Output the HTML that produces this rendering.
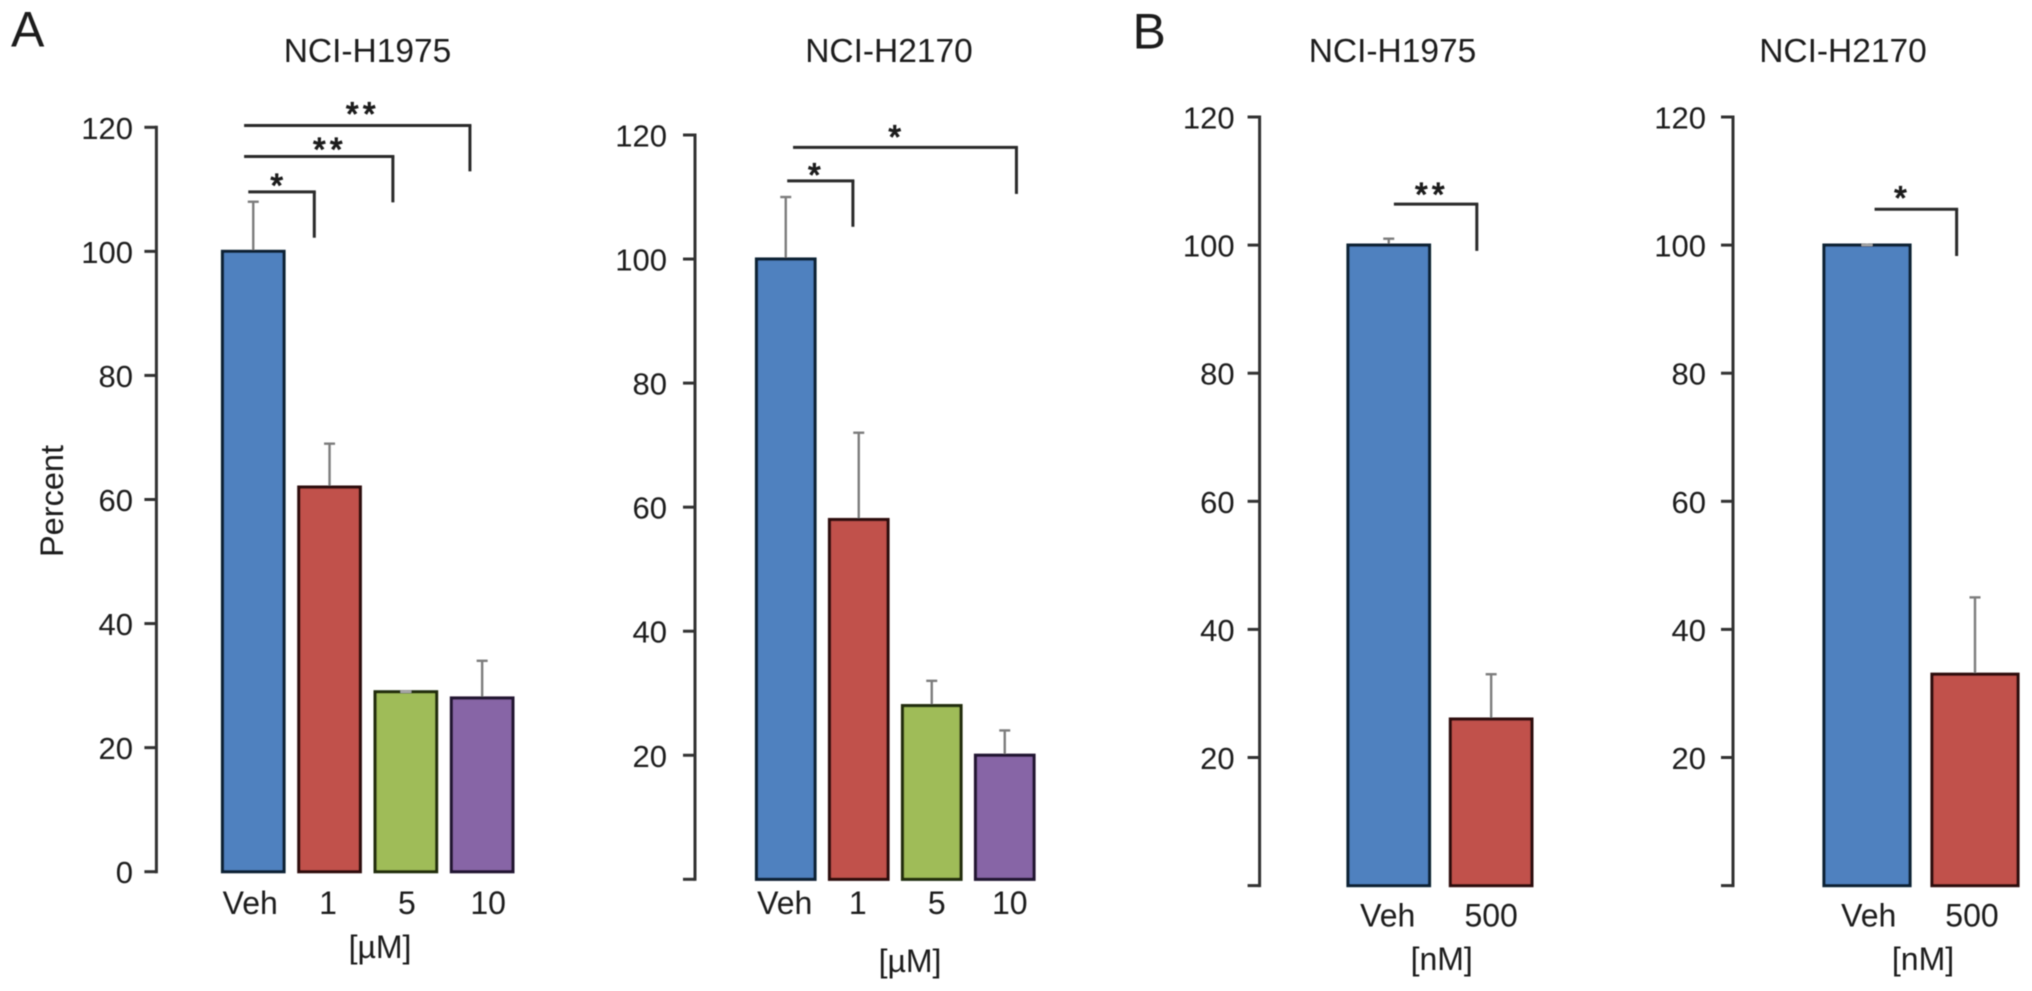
<!DOCTYPE html>
<html lang="en">
<head>
<meta charset="utf-8">
<title>NCI-H1975 and NCI-H2170 bar charts</title>
<style>
html,body{margin:0;padding:0;background:#fff;width:2032px;height:991px;overflow:hidden}
svg{display:block}
text{font-family:"Liberation Sans",Arial,sans-serif;fill:#1c1c1c}
</style>
</head>
<body>
<svg id="figure" xmlns="http://www.w3.org/2000/svg" width="2032" height="991" viewBox="0 0 2032 991">
  <defs><filter id="soft" x="-2%" y="-2%" width="104%" height="104%"><feGaussianBlur stdDeviation="0.55"/></filter></defs>
  <rect x="0" y="0" width="2032" height="991" fill="#ffffff"/>
  <g id="root" filter="url(#soft)">
    <text x="11" y="46.5" font-size="50">A</text>
    <text x="1132.5" y="48.5" font-size="50">B</text>
    <text x="367.5" y="62" font-size="33.5" text-anchor="middle">NCI-H1975</text>
    <text x="889" y="62" font-size="33.5" text-anchor="middle">NCI-H2170</text>
    <text x="1392.5" y="62" font-size="33.5" text-anchor="middle">NCI-H1975</text>
    <text x="1843" y="62" font-size="33.5" text-anchor="middle">NCI-H2170</text>
    <text transform="translate(63 501) rotate(-90)" font-size="32.5" text-anchor="middle">Percent</text>
    <text x="380" y="958" font-size="32" text-anchor="middle">[µM]</text>
    <text x="910" y="972" font-size="32" text-anchor="middle">[µM]</text>
    <text x="1441.7" y="970" font-size="32" text-anchor="middle">[nM]</text>
    <text x="1923" y="970" font-size="32" text-anchor="middle">[nM]</text>
  </g>
</svg>
<script>
// ---------- Data ----------
const a1Categories = ['Veh', '1', '5', '10'];
const a1Values = [100, 62, 29, 28];
const a1Errors = [8, 7, 0, 6];
const a1TickValues = [0, 20, 40, 60, 80, 100, 120];
const a1TickLabels = ['0', '20', '40', '60', '80', '100', '120'];
const a1Brackets = [
  { from: -0.12, to: 2.84, level: 120.3, end: 112.9, label: '**', labelAt: 1.412, labelLevel: 123.2 },
  { from: -0.12, to: 1.83, level: 115.3, end: 107.9, label: '**', labelAt: 0.98, labelLevel: 117.5 },
  { from: -0.065, to: 0.8, level: 109.6, end: 102.2, label: '*', labelAt: 0.311, labelLevel: 111.7 }
];

const a2Categories = ['Veh', '1', '5', '10'];
const a2Values = [100, 58, 28, 20];
const a2Errors = [10, 14, 4, 4];
const a2TickValues = [0, 20, 40, 60, 80, 100, 120];
const a2TickLabels = ['', '20', '40', '60', '80', '100', '120'];
const a2Brackets = [
  { from: 0.1, to: 3.16, level: 118, end: 110.5, label: '*', labelAt: 1.497, labelLevel: 120.7 },
  { from: 0.02, to: 0.92, level: 112.6, end: 105.2, label: '*', labelAt: 0.395, labelLevel: 114.6 }
];

const b1Categories = ['Veh', '500'];
const b1Values = [100, 26];
const b1Errors = [1, 7];
const b1TickValues = [0, 20, 40, 60, 80, 100, 120];
const b1TickLabels = ['', '20', '40', '60', '80', '100', '120'];
const b1Brackets = [
  { from: 0.05, to: 0.86, level: 106.4, end: 99.1, label: '**', labelAt: 0.403, labelLevel: 108.9 }
];

const b2Categories = ['Veh', '500'];
const b2Values = [100, 33];
const b2Errors = [0, 12];
const b2TickValues = [0, 20, 40, 60, 80, 100, 120];
const b2TickLabels = ['', '20', '40', '60', '80', '100', '120'];
const b2Brackets = [
  { from: 0.07, to: 0.83, level: 105.6, end: 98.3, label: '*', labelAt: 0.312, labelLevel: 108.4 }
];

const barColors = ['#5081bf', '#c1514c', '#9fbc59', '#8765a6'];
const barEdges = ['#0f2036', '#2e100f', '#232f10', '#221530'];

// ---------- Drawing ----------
const SVGNS = 'http://www.w3.org/2000/svg';
const root = document.getElementById('root');

function makeLine(parent, x1, y1, x2, y2, color, width) {
  const el = document.createElementNS(SVGNS, 'line');
  el.setAttribute('x1', x1);
  el.setAttribute('y1', y1);
  el.setAttribute('x2', x2);
  el.setAttribute('y2', y2);
  el.setAttribute('stroke', color);
  el.setAttribute('stroke-width', width);
  parent.appendChild(el);
  return el;
}

function makeText(parent, x, y, size, anchor, content) {
  const el = document.createElementNS(SVGNS, 'text');
  el.setAttribute('x', x);
  el.setAttribute('y', y);
  el.setAttribute('font-size', size);
  el.setAttribute('text-anchor', anchor);
  el.textContent = content;
  parent.appendChild(el);
  return el;
}

function drawChart(id, categories, values, errors, tickValues, tickLabels, brackets, layout) {
  const g = document.createElementNS(SVGNS, 'g');
  
  
  root.appendChild(g);

  const yScale = v => layout.y0 - (v / 120) * (layout.y0 - layout.y120);
  const xCenter = i => layout.barLeft + layout.barWidth / 2 + i * layout.barStep;

  // axis
  const axis = makeLine(g, layout.axisX, yScale(0) + 1.5, layout.axisX, yScale(120) - 1.5, '#333333', 3);
  
  

  tickValues.forEach((t, i) => {
    const tick = makeLine(g, layout.axisX - 12, yScale(t), layout.axisX, yScale(t), '#333333', 3);
    
    
    if (tickLabels[i]) {
      const lab = makeText(g, layout.tickRight, yScale(t) + 11.5, 31, 'end', tickLabels[i]);
      
      
    }
  });

  // bars
  values.forEach((v, i) => {
    const bar = document.createElementNS(SVGNS, 'rect');
    bar.setAttribute('x', xCenter(i) - layout.barWidth / 2);
    bar.setAttribute('y', yScale(v));
    bar.setAttribute('width', layout.barWidth);
    bar.setAttribute('height', yScale(0) - yScale(v));
    bar.setAttribute('fill', barColors[i]);
    bar.setAttribute('stroke', barEdges[i]);
    bar.setAttribute('stroke-width', 3.2);
    
    
    g.appendChild(bar);
  });

  // error bars, drawn over the top edge of each bar
  values.forEach((v, i) => {
    const cx = xCenter(i);
    const top = yScale(v + errors[i]);
    const stem = makeLine(g, cx, yScale(v) - 1.5, cx, top, '#7d7d7d', 2.4);
    
    
    const cap = makeLine(g, cx - 5.5, top, cx + 5.5, top, errors[i] === 0 ? '#a8a8a8' : '#7d7d7d', 2.4);
    
    
  });

  // category labels
  categories.forEach((c, i) => {
    const lab = makeText(g, xCenter(i) + layout.labelNudge[i], layout.labelY, 32, 'middle', c);
    
    
  });

  // significance brackets
  brackets.forEach(b => {
    const x1 = xCenter(b.from);
    const x2 = xCenter(b.to);
    const y = yScale(b.level);
    const h = makeLine(g, x1, y, x2 + 1.5, y, '#2a2a2a', 3);
    
    
    const d = makeLine(g, x2, y, x2, yScale(b.end), '#2a2a2a', 3);
    
    
    const s = makeText(g, xCenter(b.labelAt) + 2, yScale(b.labelLevel) + 17.5, 32, 'middle', b.label);
    s.setAttribute('letter-spacing', '4.5');
    s.setAttribute('stroke', '#1c1c1c');
    s.setAttribute('stroke-width', '1.2');
    
    
  });
}

drawChart('a-h1975', a1Categories, a1Values, a1Errors, a1TickValues, a1TickLabels, a1Brackets,
  { axisX: 156.4, y0: 871.7, y120: 127.3, barLeft: 222.5, barWidth: 61.5, barStep: 76.3, tickRight: 133,
    labelY: 914, labelNudge: [-3, -1.5, 1, 6] });
drawChart('a-h2170', a2Categories, a2Values, a2Errors, a2TickValues, a2TickLabels, a2Brackets,
  { axisX: 695, y0: 879.3, y120: 135, barLeft: 756.5, barWidth: 58.5, barStep: 73, tickRight: 667,
    labelY: 914, labelNudge: [-1, -1, 5, 5] });
drawChart('b-h1975', b1Categories, b1Values, b1Errors, b1TickValues, b1TickLabels, b1Brackets,
  { axisX: 1259.6, y0: 885.6, y120: 117, barLeft: 1348, barWidth: 81.5, barStep: 102.4, tickRight: 1234.6,
    labelY: 926.7, labelNudge: [-1, 0] });
drawChart('b-h2170', b2Categories, b2Values, b2Errors, b2TickValues, b2TickLabels, b2Brackets,
  { axisX: 1733, y0: 885.6, y120: 117, barLeft: 1824, barWidth: 86, barStep: 108, tickRight: 1706,
    labelY: 926.7, labelNudge: [1.7, -3] });
</script>
</body>
</html>
